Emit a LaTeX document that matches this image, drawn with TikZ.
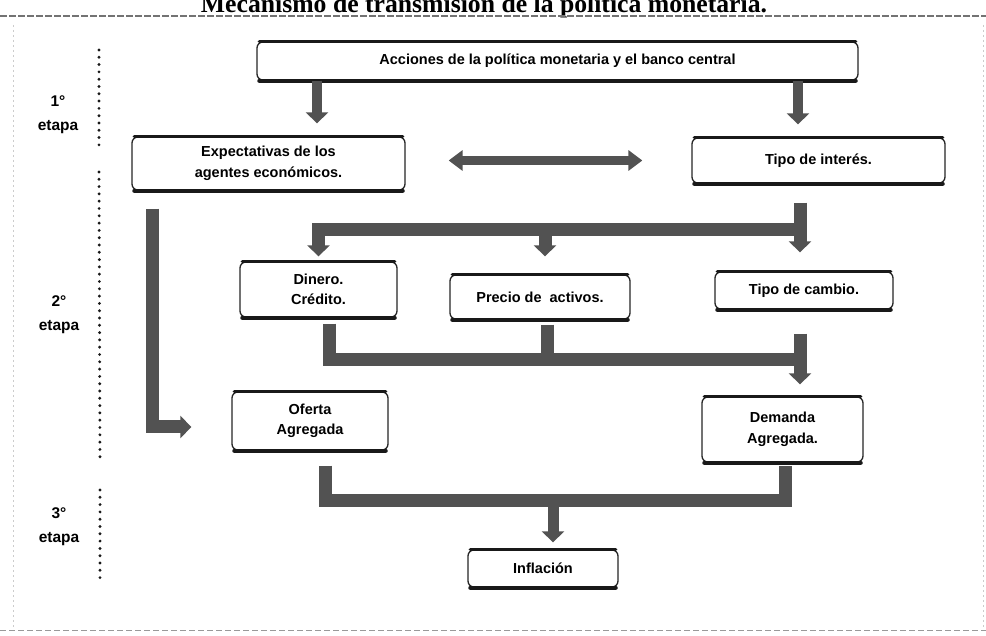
\documentclass[tikz,border=0pt]{standalone}
\usepackage{fontspec}
\setmainfont{Liberation Sans}
\newfontfamily\titlefont{Liberation Serif}
\usetikzlibrary{arrows.meta}
\begin{document}
\begin{tikzpicture}[x=1pt,y=-1pt,
  box/.style={draw=black!85, line width=1.3pt, rounded corners=6pt, fill=white,
    inner sep=0pt, align=center, font=\bfseries\fontsize{14.5}{20.5}\selectfont},
  edge/.style={draw=black!90, line width=3.6pt, line cap=round},
  bar/.style={draw=black!68, line width=13pt, line join=miter},
  tip/.style={-{Triangle[width=22pt,length=11pt]}},
  stage/.style={font=\bfseries\fontsize{15.5}{24}\selectfont, align=center},
  dots/.style={draw=black!90, line width=3.2pt, line cap=round, dash pattern=on 0pt off 7.3pt},
]
\useasboundingbox (0,0) rectangle (986,636);

% title and page frame
\node[font=\titlefont\bfseries\fontsize{25.7}{30}\selectfont, anchor=base] (title) at (484,12.5)
  {Mecanismo de transmisión de la política monetaria.};
\draw[black!55, line width=1.2pt, dash pattern=on 7pt off 2pt] (0,16) -- (986,16);
\draw[black!20, line width=0.8pt, dash pattern=on 2pt off 3pt] (13,25) -- (13,630);
\draw[black!20, line width=0.8pt, dash pattern=on 2pt off 3pt] (983,25) -- (983,630);
\draw[black!40, line width=1pt, dash pattern=on 6pt off 3pt] (0,630) -- (986,630);

% boxes
\node[box, minimum width=601pt, minimum height=38pt] (A) at (557.5,61)
  {Acciones de la política monetaria y el banco central};
\node[box, minimum width=273pt, minimum height=53pt] (E) at (268.5,163.5)
  {Expectativas de los\\agentes económicos.};
\node[box, minimum width=253pt, minimum height=45pt] (T) at (818.5,160.5) {Tipo de interés.};
\node[box, minimum width=157pt, minimum height=55pt] (D) at (318.5,289.5) {Dinero.\\Crédito.};
\node[box, minimum width=180pt, minimum height=44pt] (P) at (540,297) {Precio de~ activos.};
\node[box, minimum width=178pt, minimum height=37pt] (C) at (804,290.5) {Tipo de cambio.};
\node[box, minimum width=156pt, minimum height=58pt] (O) at (310,421) {Oferta\\Agregada};
\node[box, minimum width=161pt, minimum height=65pt] (DA) at (782.5,429.5) {Demanda\\Agregada.};
\node[box, minimum width=150pt, minimum height=37pt] (I) at (543,568.5) {Inflación};

% heavy top and bottom rims of the boxes
\foreach \n in {A,E,T,D,P,C,O,DA,I} {
  \draw[edge] ([xshift=3pt]\n.north west) -- ([xshift=-3pt]\n.north east);
  \draw[edge, line width=4.2pt] ([xshift=3pt]\n.south west) -- ([xshift=-3pt]\n.south east);
}

% stage labels
\node[stage] (L1) at (58,114.5) {1°\\etapa};
\node[stage] (L2) at (59,314.5) {2°\\etapa};
\node[stage] (L3) at (59,527) {3°\\etapa};
\draw[dots] (99,50) -- (99,150);
\draw[dots] (99,172) -- (100,460);
\draw[dots] (100,490) -- (100,583);

% junction points of the connectors
\coordinate (c1) at (317,0);
\coordinate (c2) at (798,0);
\coordinate (s1) at (800,230);
\coordinate (s2) at (545,230);
\coordinate (m1) at (329,360);
\coordinate (m2) at (800,360);
\coordinate (m3) at (547,360);
\coordinate (e1) at (152,427);
\coordinate (b1) at (325,500);
\coordinate (b2) at (785,500);
\coordinate (b3) at (553,500);

% first stage
\draw[bar, line width=10pt, tip, shorten >=13pt] (A.south -| c1) -- (E.north -| c1);
\draw[bar, line width=10pt, tip, shorten >=13pt] (A.south -| c2) -- (T.north -| c2);
\draw[bar, line width=9pt, {Triangle[width=20pt,length=14pt]}-{Triangle[width=20pt,length=14pt]},
  shorten <=43pt, shorten >=49pt] (E.east |- T.west) -- (T.west);

% second stage
\draw[bar, tip, shorten <=19pt, shorten >=19pt] (T.south -| s1) -- (C.north -| s1);
\draw[bar, tip, shorten >=5pt] (s1) -| (D.north);
\draw[bar, tip, shorten >=18pt] (s2) -- (P.north -| s2);
\draw[bar, shorten <=6pt] (D.south -| m1) -- (m1) -- (m2);
\draw[bar, shorten <=5pt] (P.south -| m3) -- (m3);
\draw[bar, tip, shorten <=24pt, shorten >=12pt] (C.south -| m2) -- (DA.north -| m2);
\draw[bar, tip, shorten <=18pt, shorten >=40pt] (E.south -| e1) -- (e1) -- (e1 -| O.west);

% third stage
\draw[bar, shorten <=15pt, shorten >=3pt] (O.south -| b1) -- (b1) -- (b2) -- (DA.south -| b2);
\draw[bar, line width=11pt, tip, shorten >=7pt] (b3) -- (I.north -| b3);
\end{tikzpicture}
\end{document}
